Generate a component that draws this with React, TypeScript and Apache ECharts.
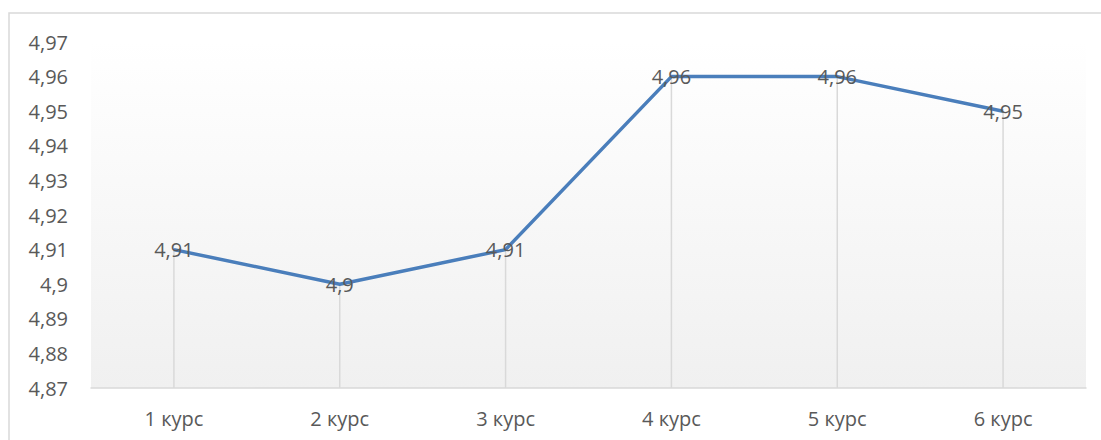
import React, { useEffect, useRef } from "react";
import * as echarts from "echarts";

const categories = ["1 курс", "2 курс", "3 курс", "4 курс", "5 курс", "6 курс"];
const values = [4.91, 4.9, 4.91, 4.96, 4.96, 4.95];
const yMin = 4.87;
const yMax = 4.97;
const yStep = 0.01;

const fmt = (v: number) => String(Math.round(v * 100) / 100).replace(".", ",");

export default function App() {
  const ref = useRef<HTMLDivElement>(null);
  useEffect(() => {
    const chart = echarts.init(ref.current!, undefined, { renderer: "svg" });
    const font = "'Open Sans', 'Noto Sans', sans-serif";
    chart.setOption({
      animation: false,
      backgroundColor: "#ffffff",
      grid: { left: 91, right: 15, top: 42, bottom: 52, containLabel: false },
      graphic: [
        {
          type: "rect",
          shape: { x: 9, y: 13, width: 1200, height: 600 },
          style: { fill: "none", stroke: "#d9d9d9", lineWidth: 1.5 },
          silent: true,
          z: -10,
        },
        {
          type: "rect",
          shape: { x: 91, y: 42, width: 995, height: 346 },
          style: {
            fill: new echarts.graphic.LinearGradient(0, 0, 0, 1, [
              { offset: 0, color: "#ffffff" },
              { offset: 1, color: "#f0f0f0" },
            ]),
          },
          silent: true,
          z: -5,
        },
      ],
      xAxis: {
        type: "category",
        data: categories,
        boundaryGap: true,
        axisLine: { show: true, lineStyle: { color: "#d9d9d9", width: 1.5 } },
        axisTick: { show: false },
        axisLabel: { color: "#595959", fontSize: 20, fontFamily: font, margin: 20 },
        splitLine: { show: false },
      },
      yAxis: {
        type: "value",
        min: yMin,
        max: yMax,
        interval: yStep,
        axisLine: { show: false },
        axisTick: { show: false },
        splitLine: { show: false },
        axisLabel: {
          color: "#595959",
          fontSize: 20,
          fontFamily: font,
          margin: 23,
          formatter: (v: number) => fmt(v),
        },
      },
      series: [
        {
          type: "bar",
          data: values,
          barWidth: 1.5,
          itemStyle: { color: "#d9d9d9" },
          silent: true,
          z: 1,
        },
        {
          type: "line",
          data: values,
          symbol: "circle",
          symbolSize: 2,
          showSymbol: true,
          itemStyle: { color: "rgba(0,0,0,0)" },
          lineStyle: { color: "#4a7ebb", width: 3.5 },
          z: 3,
          labelLayout: { hideOverlap: false },
          label: {
            show: true,
            position: "inside",
            color: "#595959",
            fontSize: 20,
            fontFamily: font,
            formatter: (p: any) => fmt(p.value),
          },
        },
      ],
    });
    return () => chart.dispose();
  }, []);
  return (
    <div
      ref={ref}
      style={{ position: "fixed", left: 0, top: 0, width: 1101, height: 440 }}
    />
  );
}
